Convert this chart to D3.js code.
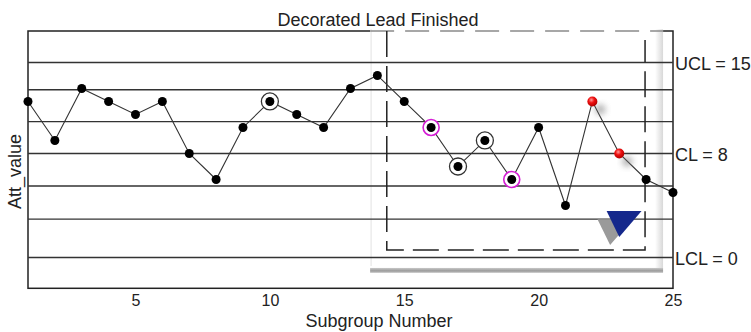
<!DOCTYPE html>
<html><head><meta charset="utf-8">
<script src="https://cdn.jsdelivr.net/npm/d3@7"></script>
<style>body{margin:0;background:#fff}svg{display:block;font-family:"Liberation Sans",Arial,sans-serif}</style>
</head><body><svg id="c" width="751" height="332"></svg>
<script>
// ---- data ----
const subgroups = d3.range(1, 26);
const values = [12, 9, 13, 12, 11, 12, 8, 6, 10, 12, 11, 10, 13, 14, 12, 10, 7, 9, 6, 10, 4, 12, 8, 6, 5];
const limitValues = [15, 8, 0];
const limitLabels = ["UCL = 15", "CL = 8", "LCL = 0"];
const zoneValues = [12.9, 10.45, 5.5, 2.95];
const xTicks = [5, 10, 15, 20, 25];
const circledBlack = [10, 17, 18];
const circledMagenta = [16, 19];
const redPoints = [22, 23];
// decorations in data units
const panelX = [13.73, 24.63];
const panelY = [17.55, -0.65];
const dashRectX = [14.35, 23.96];
const dashRectY = [17.42, 0.58];
const dashRightTop = 16.73;
const triangle = [[22.53, 3.57], [23.83, 3.57], [23.0, 1.58]];
const triangleShadow = [[22.19, 2.95], [23.49, 2.95], [22.66, 0.96]];

const title = "Decorated Lead Finished";
const xTitle = "Subgroup Number";
const yTitle = "Att_value";

// ---- scales ----
const svg = d3.select("#c");
const L = 28, R = 673, T = 31, B = 288.3;
const x = d3.scaleLinear().domain([1, 25]).range([L, R]);
const y = d3.scaleLinear().domain([-2.37, 17.42]).range([B, T]);

const defs = svg.append("defs");
const rg = defs.append("radialGradient").attr("id", "redg").attr("cx", "40%").attr("cy", "35%").attr("r", "65%");
rg.append("stop").attr("offset", "0%").attr("stop-color", "#ff9a9a");
rg.append("stop").attr("offset", "45%").attr("stop-color", "#f01010");
rg.append("stop").attr("offset", "100%").attr("stop-color", "#b00000");
const blur = defs.append("filter").attr("id", "blur").attr("x", "-50%").attr("y", "-50%").attr("width", "200%").attr("height", "200%");
blur.append("feGaussianBlur").attr("stdDeviation", 3);
const blur2 = defs.append("filter").attr("id", "blur2");
blur2.append("feGaussianBlur").attr("stdDeviation", 0.6);
const rightGrad = defs.append("linearGradient").attr("id", "rgrad").attr("x1", 0).attr("x2", 1);
rightGrad.append("stop").attr("offset", "0%").attr("stop-color", "#fff");
rightGrad.append("stop").attr("offset", "100%").attr("stop-color", "#d8d8d8");
const botGrad = defs.append("linearGradient").attr("id", "bgrad").attr("x1", 0).attr("x2", 0).attr("y1", 0).attr("y2", 1);
botGrad.append("stop").attr("offset", "0%").attr("stop-color", "#c8c8c8");
botGrad.append("stop").attr("offset", "60%").attr("stop-color", "#9a9a9a");
botGrad.append("stop").attr("offset", "100%").attr("stop-color", "#d0d0d0");

// plot border
svg.append("rect").attr("x", L).attr("y", T).attr("width", R - L).attr("height", B - T)
  .attr("fill", "#fff").attr("stroke", "#222").attr("stroke-width", 1.5);

// panel (semi-transparent overlay with shadow)
const px0 = x(panelX[0]), px1 = x(panelX[1]), py0 = y(panelY[0]), py1 = y(panelY[1]);
svg.append("rect").attr("x", px0).attr("y", py0).attr("width", px1 - px0).attr("height", py1 - py0).attr("fill", "#fff");
svg.append("rect").attr("x", px1 - 8).attr("y", py0).attr("width", 8).attr("height", py1 - py0 + 6).attr("fill", "url(#rgrad)");
svg.append("line").attr("x1", px0 + 1).attr("x2", px0 + 1).attr("y1", py0).attr("y2", py1).attr("stroke", "#ececec").attr("stroke-width", 1.5);
svg.append("rect").attr("x", px0).attr("y", py1 + 2).attr("width", px1 - px0).attr("height", 5).attr("fill", "url(#bgrad)");

// axes (for tick labels only)
const xAxis = svg.append("g").attr("transform", `translate(0,${B})`)
  .call(d3.axisBottom(x).tickValues(xTicks).tickSize(0).tickPadding(6));
xAxis.select(".domain").remove();
xAxis.selectAll("text").attr("font-size", 16).attr("fill", "#222").attr("font-family", "Liberation Sans, Arial, sans-serif");

// zone lines and control limits
svg.append("g").selectAll("line").data(zoneValues.concat(limitValues)).join("line")
  .attr("x1", L).attr("x2", R).attr("y1", d => y(d)).attr("y2", d => y(d))
  .attr("stroke", "#333").attr("stroke-width", 1.4);

svg.append("g").selectAll("text").data(limitValues).join("text")
  .attr("x", R + 2).attr("y", d => y(d) + 1).attr("dy", "0.35em")
  .attr("font-size", 18).attr("fill", "#222").text((d, i) => limitLabels[i]);

// dashed decoration rectangle
const dx0 = x(dashRectX[0]), dx1 = x(dashRectX[1]), dy0 = y(dashRectY[0]), dy1 = y(dashRectY[1]);
svg.append("line").attr("x1", px0).attr("x2", px1).attr("y1", dy0).attr("y2", dy0)
  .attr("stroke", "#8a8a8a").attr("stroke-width", 1.5).attr("stroke-dasharray", "24,11");
svg.append("path").attr("d", `M${dx0},${dy0}V${dy1}H${dx1}V${y(dashRightTop)}`)
  .attr("fill", "none").attr("stroke", "#222").attr("stroke-width", 1.5).attr("stroke-dasharray", "26,9");

// data line
const pts = subgroups.map((s, i) => [s, values[i]]);
svg.append("path").datum(pts)
  .attr("d", d3.line().x(d => x(d[0])).y(d => y(d[1])))
  .attr("fill", "none").attr("stroke", "#333").attr("stroke-width", 1.1);

// rings
svg.append("g").selectAll("circle").data(circledBlack).join("circle")
  .attr("cx", d => x(d)).attr("cy", d => y(values[d - 1])).attr("r", 8.5)
  .attr("fill", "#fff").attr("stroke", "#333").attr("stroke-width", 1.3);
svg.append("g").selectAll("circle").data(circledMagenta).join("circle")
  .attr("cx", d => x(d)).attr("cy", d => y(values[d - 1])).attr("r", 8)
  .attr("fill", "#fff").attr("stroke", "#d51ed5").attr("stroke-width", 1.6);

// shadows for red points
svg.append("g").selectAll("circle").data(redPoints).join("circle")
  .attr("cx", d => x(d) + 8).attr("cy", d => y(values[d - 1]) + 8).attr("r", 5)
  .attr("fill", "#777").attr("opacity", 0.6).attr("filter", "url(#blur)");

// points
svg.append("g").selectAll("circle").data(pts.filter(p => !redPoints.includes(p[0]))).join("circle")
  .attr("cx", d => x(d[0])).attr("cy", d => y(d[1])).attr("r", 4.5).attr("fill", "#000");
svg.append("g").selectAll("circle").data(pts.filter(p => redPoints.includes(p[0]))).join("circle")
  .attr("cx", d => x(d[0])).attr("cy", d => y(d[1])).attr("r", 5).attr("fill", "url(#redg)");

// triangle with shadow
const tri = d3.line().x(d => x(d[0])).y(d => y(d[1]));
svg.append("path").attr("d", tri(triangleShadow) + "Z").attr("fill", "#9a9a9a").attr("filter", "url(#blur2)");
svg.append("path").attr("d", tri(triangle) + "Z").attr("fill", "#15288c");

// titles
svg.append("text").attr("x", 378).attr("y", 26).attr("text-anchor", "middle")
  .attr("font-size", 18).attr("fill", "#222").text(title);
svg.append("text").attr("x", 379).attr("y", 327).attr("text-anchor", "middle")
  .attr("font-size", 18).attr("fill", "#222").text(xTitle);
svg.append("text").attr("transform", "translate(21,171.5) rotate(-90)").attr("text-anchor", "middle")
  .attr("font-size", 18).attr("fill", "#222").text(yTitle);
</script></body></html>
